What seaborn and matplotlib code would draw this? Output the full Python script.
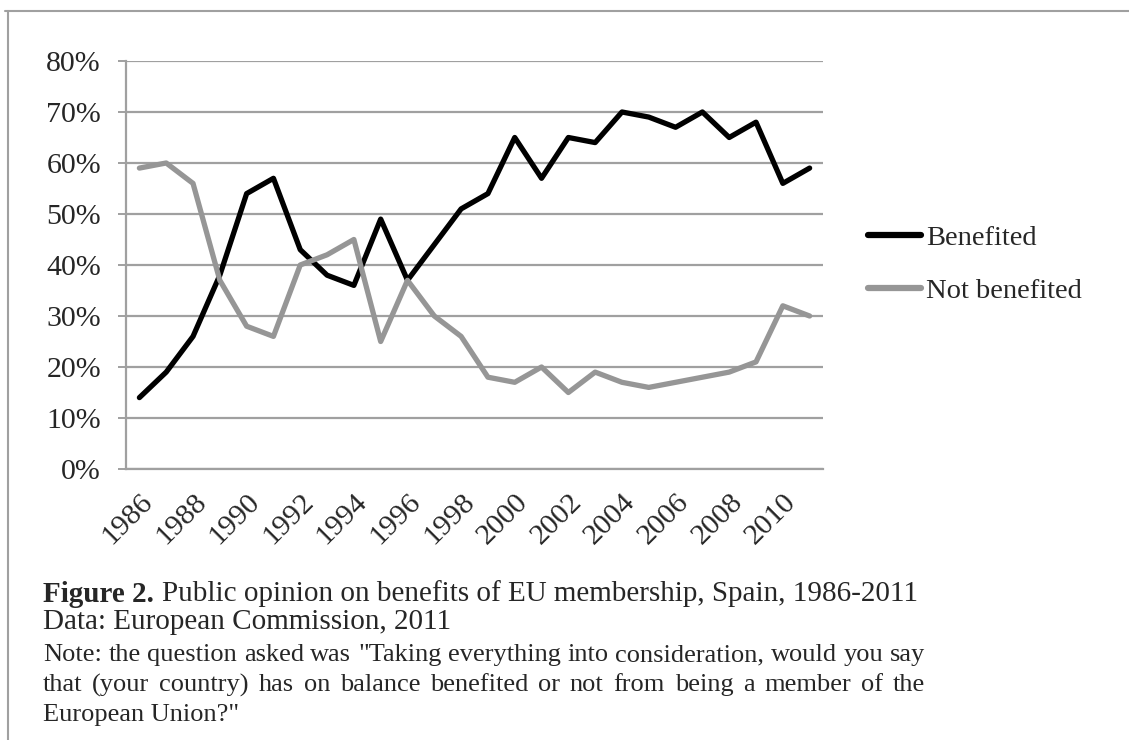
import pandas as pd
import matplotlib.pyplot as plt
import matplotlib.transforms as mtransforms
import seaborn as sns
from matplotlib.lines import Line2D

years = list(range(1986, 2012))
benefited = [14, 19, 26, 38, 54, 57, 43, 38, 36, 49, 37, 44, 51, 54,
             65, 57, 65, 64, 70, 69, 67, 70, 65, 68, 56, 59]
not_benefited = [59, 60, 56, 37, 28, 26, 40, 42, 45, 25, 37, 30, 26, 18,
                 17, 20, 15, 19, 17, 16, 17, 18, 19, 21, 32, 30]
series_names = ['Benefited', 'Not benefited']
colors = ['#000000', '#969696']

df = pd.DataFrame({'year': years * 2,
                   'value': benefited + not_benefited,
                   'series': [series_names[0]] * len(years) + [series_names[1]] * len(years)})
df['pos'] = df['year'] - years[0]

sns.set_style('white')
plt.rcParams['font.family'] = ['Liberation Serif', 'DejaVu Serif']

W, H = 1129, 740
fig = plt.figure(figsize=(W / 100, H / 100), dpi=100)
ax = fig.add_axes([0.1116, 0.3662, 0.6174, 0.5514])

sns.lineplot(data=df, x='pos', y='value', hue='series', palette=colors,
             linewidth=3.8, ax=ax, legend=False, zorder=3)

grid_c = '#a0a0a0'
ax.set_ylim(0, 80)
ax.set_xlim(-0.5, len(years) - 0.5)
ax.set_yticks(range(0, 81, 10))
ax.set_yticklabels([f'{v}%' for v in range(0, 81, 10)], fontsize=21.5)
ax.yaxis.grid(True, color=grid_c, linewidth=1.6)
ax.set_axisbelow(True)

ax.set_xticks(range(0, len(years), 2))
ax.set_xticklabels([str(y) for y in years[::2]], fontsize=21.5, rotation=45,
                   ha='right', va='top', rotation_mode='anchor')
shift = mtransforms.ScaledTranslation(-5 / 100, 0, fig.dpi_scale_trans)
for lab in ax.get_xticklabels():
    lab.set_transform(lab.get_transform() + shift)
ax.set_xticks([i - 0.5 for i in range(len(years) + 1)], minor=True)
ax.tick_params(axis='x', which='major', length=0, pad=14)
ax.tick_params(axis='x', which='minor', length=6, width=1.4, color=grid_c, direction='out')
ax.tick_params(axis='y', length=6, width=1.4, color=grid_c, direction='out', left=True, pad=12)
ax.set_xlabel('')
ax.set_ylabel('')
for s in ['top', 'right']:
    ax.spines[s].set_visible(False)
for s in ['left', 'bottom']:
    ax.spines[s].set_color(grid_c)
    ax.spines[s].set_linewidth(1.6)

handles = [Line2D([0], [0], color=c, linewidth=4.5, solid_capstyle='round') for c in colors]
fig.legend(handles, series_names, loc='center left', bbox_to_anchor=(0.746, 0.642),
           frameon=False, fontsize=20.5, handlelength=1.85, handletextpad=0.2,
           labelspacing=0.95)

# caption
x0 = 43 / W
x1 = 925 / W
fig.text(x0, 1 - 594 / H, 'Figure 2.', fontsize=21, weight='bold', va='center')
fig.text(x0 + 119 / W, 1 - 594 / H, 'Public opinion on benefits of EU membership, Spain, 1986-2011',
         fontsize=21, va='center')
fig.text(x0, 1 - 622 / H, 'Data: European Commission, 2011', fontsize=21, va='center')

note_lines = ['Note: the question asked was "Taking everything into consideration, would you say',
              'that (your country) has on balance benefited or not from being a member of the',
              'European Union?"']
note_y = [655, 685, 715]
renderer = fig.canvas.get_renderer()
for i, line in enumerate(note_lines):
    y = 1 - note_y[i] / H
    if i == len(note_lines) - 1:
        fig.text(x0, y, line, fontsize=19, va='center')
        continue
    # justify the line between x0 and x1
    words = line.split(' ')
    texts = [fig.text(0, y, w, fontsize=19, va='center') for w in words]
    widths = [t.get_window_extent(renderer).width / W for t in texts]
    gap = (x1 - x0 - sum(widths)) / (len(words) - 1)
    x = x0
    for t, w in zip(texts, widths):
        t.set_x(x)
        x += w + gap

# page border
fig.add_artist(Line2D([0.004, 1.0], [0.985, 0.985], color='#a0a0a0', linewidth=1.5))
fig.add_artist(Line2D([0.007, 0.007], [0.0, 0.985], color='#a0a0a0', linewidth=1.5))

fig.savefig('out.png', dpi=100)
